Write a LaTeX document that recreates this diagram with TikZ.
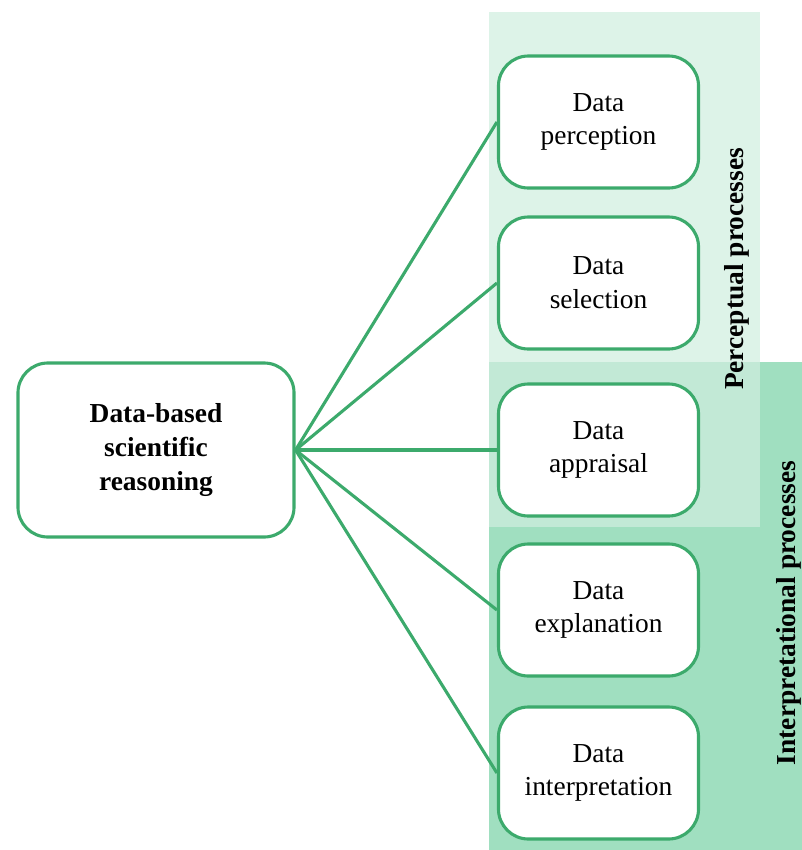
\documentclass[tikz,border=0pt]{standalone}
\usepackage{fontspec}
\setmainfont{Liberation Serif}
\usetikzlibrary{positioning}
\definecolor{boxgreen}{RGB}{60,170,108}
\definecolor{percfill}{RGB}{208,238,223}
\definecolor{interfill}{RGB}{160,223,192}
\tikzset{
	procbox/.style={draw=boxgreen,line width=2.2pt,rounded corners=0.75cm,fill=white,
		minimum width=5.0cm,minimum height=3.3cm,align=center,
		font=\fontsize{19.5}{24}\selectfont},
	mainbox/.style={procbox,minimum width=6.9cm,minimum height=4.35cm,
		font=\fontsize{19.5}{24}\selectfont\bfseries},
	link/.style={boxgreen,line width=2.2pt},
	grouplabel/.style={rotate=90,inner sep=1pt,font=\fontsize{19.5}{24}\selectfont\bfseries}
}

\begin{document}
\begin{tikzpicture}[x=0.025cm,y=-0.025cm]
		\useasboundingbox (0,0) rectangle (802,850);
		% group backgrounds
		\fill[interfill](489,362) rectangle (802,850);
		\fill[percfill,fill opacity=0.72](489,12) rectangle (760,527);
		\node[mainbox] (reason) at (156,450) {Data-based\\scientific\\reasoning};
		\foreach \y/\name/\txt in{122/perc/perception,283/sel/selection,450/appr/appraisal,610/expl/explanation,773/interp/interpretation}{
			\node[procbox] (\name) at (598.5,\y) {Data\\\txt};
			\draw[link](reason.east)--(\name.west);
		}
		\node[grouplabel] (perclab) at (737,269) {Perceptual processes};
		\node[grouplabel] (interlab) at (789,613) {Interpretational processes};
	\end{tikzpicture}
\end{document}
